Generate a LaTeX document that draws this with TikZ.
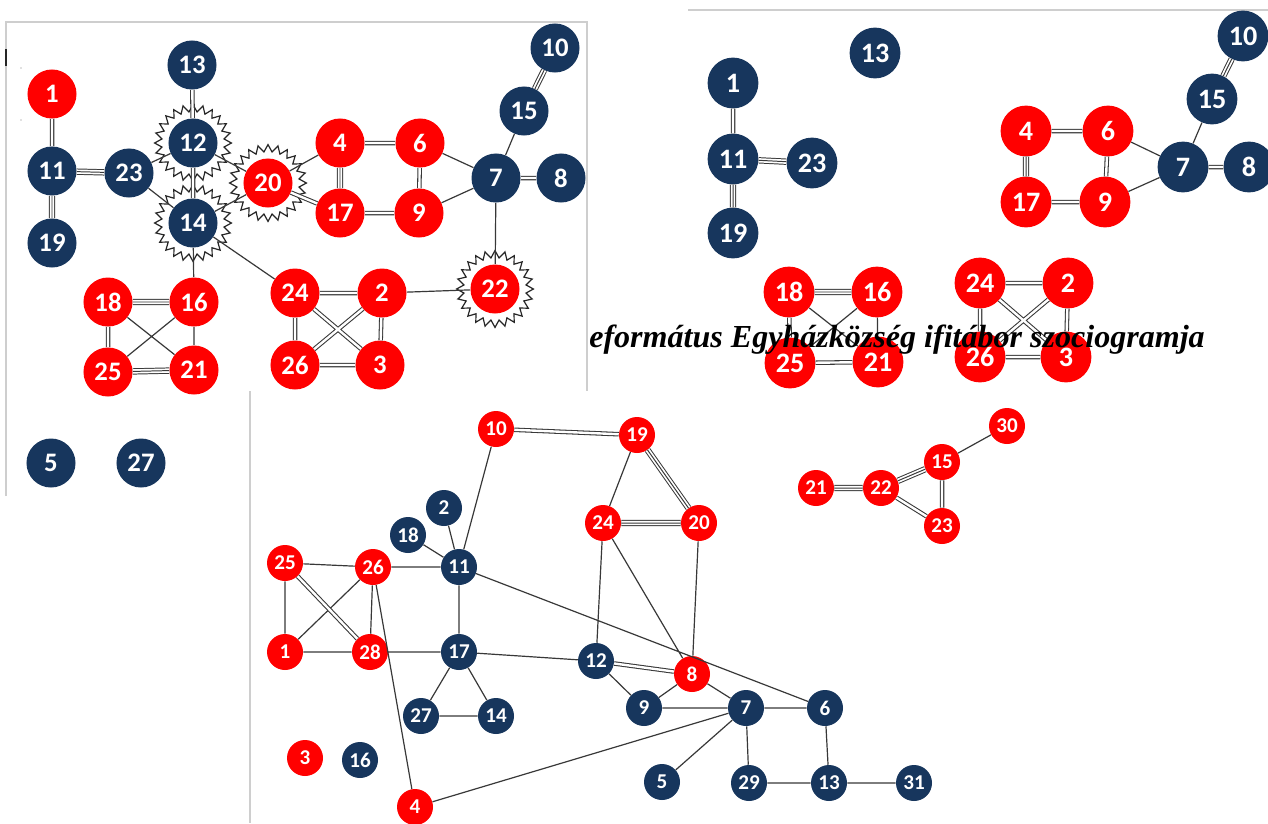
\documentclass[tikz,border=0pt]{standalone}
\usepackage{fontspec}
\setmainfont{Liberation Serif}
\newfontfamily\calibri{Carlito}
\usepackage{tikz}
\usetikzlibrary{shapes.geometric}
\definecolor{sotetkek}{RGB}{23,54,93}
\definecolor{pirosszin}{RGB}{255,0,0}
\definecolor{keret}{RGB}{206,206,206}
\tikzset{
	pont/.style={circle, inner sep=0pt, text=white},
	kekpont/.style={pont, fill=sotetkek},
	pirospont/.style={pont, fill=pirosszin},
	nagy/.style={minimum size=1.225cm, font=\calibri\bfseries\fontsize{19}{19}\selectfont},
	nagyobb/.style={minimum size=1.27cm, font=\calibri\bfseries\fontsize{20}{20}\selectfont},
	kicsi/.style={minimum size=0.9cm, font=\calibri\bfseries\fontsize{15}{15}\selectfont},
	csillag/.style={star, star points=24, star point ratio=1.23, minimum size=1.92cm, inner sep=0pt, draw=black!85, line width=0.85pt},
	egy/.style={draw=black!78, line width=0.85pt},
	ketto/.style={draw=black!78, line width=0.75pt, double=white, double distance=1.7pt},
	harom/.style={draw=black!78, line width=0.7pt, double=white, double distance=3.1pt},
	kozep/.style={draw=black!78, line width=0.7pt}
}

\begin{document}
\begin{tikzpicture}[x=0.025cm, y=-0.025cm]
\useasboundingbox[fill=white] (0,0) rectangle (1268,823);

% frames
\draw[keret, line width=0.9pt] (6,496) -- (6,22) -- (587,22) -- (587,391);
\draw[keret, line width=0.9pt] (688,10) -- (1268,10);
\draw[keret, line width=0.9pt] (250,391) -- (250,823);
\draw[black!85, line width=1.4pt] (6,49) -- (6,66);
\fill[gray] (21,68) circle (0.7) (21,120) circle (0.7);

% second sociogram (top right)
\node[kekpont, nagyobb] (b13) at (875,53) {13};
\node[kekpont, nagyobb] (b1) at (733,83) {1};
\node[kekpont, nagyobb] (b10) at (1243,36) {10};
\node[kekpont, nagyobb] (b15) at (1212,99) {15};
\node[kekpont, nagyobb] (b11) at (733,159) {11};
\node[kekpont, nagyobb] (b23) at (812,163) {23};
\node[pirospont, nagyobb] (b4) at (1026,131) {4};
\node[pirospont, nagyobb] (b6) at (1108,131) {6};
\node[kekpont, nagyobb] (b7) at (1183,167) {7};
\node[kekpont, nagyobb] (b8) at (1249,167) {8};
\node[pirospont, nagyobb] (b17) at (1026,202) {17};
\node[pirospont, nagyobb] (b9) at (1105,202) {9};
\node[kekpont, nagyobb] (b19) at (733,233) {19};
\node[pirospont, nagyobb] (b18) at (789,292) {18};
\node[pirospont, nagyobb] (b16) at (877,292) {16};
\node[pirospont, nagyobb] (b24) at (980,283) {24};
\node[pirospont, nagyobb] (b2) at (1068,283) {2};
\node[pirospont, nagyobb] (b25) at (790,363) {25};
\node[pirospont, nagyobb] (b21) at (878,362) {21};
\node[pirospont, nagyobb] (b26) at (980,357) {26};
\node[pirospont, nagyobb] (b3) at (1066,357) {3};

\draw[egy] (b6) -- (b7) (b9) -- (b7) (b7) -- (b15) (b18) -- (b21) (b16) -- (b25) (b16) -- (b21);
\draw[ketto] (b1) -- (b11) (b4) -- (b6) (b6) -- (b9) (b17) -- (b9) (b7) -- (b8) (b18) -- (b25)
	(b25) -- (b21) (b24) -- (b2) (b24) -- (b26) (b2) -- (b3) (b26) -- (b3) (b24) -- (b3) (b2) -- (b26);
\draw[harom] (b11) -- (b23) (b11) -- (b19) (b4) -- (b17) (b15) -- (b10) (b18) -- (b16);
\draw[kozep] (b11) -- (b23) (b11) -- (b19) (b4) -- (b17) (b15) -- (b10) (b18) -- (b16);

\node[anchor=base west, font=\bfseries\itshape\fontsize{22.8}{24}\selectfont, inner sep=0pt] (cim) at (589,347) {eformátus Egyházközség ifitábor szociogramja};

% first sociogram (top left)
\node[kekpont, nagy] (a13) at (192,65) {13};
\node[pirospont, nagy] (a1) at (52,94) {1};
\node[kekpont, nagy] (a12) at (193,143) {12};
\node[kekpont, nagy] (a11) at (52,171) {11};
\node[kekpont, nagy] (a23) at (129,173) {23};
\node[pirospont, nagy] (a20) at (268,183) {20};
\node[pirospont, nagy] (a4) at (340,143) {4};
\node[pirospont, nagy] (a6) at (420,143) {6};
\node[kekpont, nagy] (a15) at (524,111) {15};
\node[kekpont, nagy] (a10) at (555,48) {10};
\node[kekpont, nagy] (a7) at (496,178) {7};
\node[kekpont, nagy] (a8) at (561,178) {8};
\node[kekpont, nagy] (a14) at (193,223) {14};
\node[kekpont, nagy] (a19) at (52,243) {19};
\node[pirospont, nagy] (a17) at (340,213) {17};
\node[pirospont, nagy] (a9) at (419,213) {9};
\node[pirospont, nagy] (a22) at (495,289) {22};
\node[pirospont, nagy] (a18) at (108,302) {18};
\node[pirospont, nagy] (a16) at (194,302) {16};
\node[pirospont, nagy] (a24) at (295,293) {24};
\node[pirospont, nagy] (a2) at (382,293) {2};
\node[pirospont, nagy] (a25) at (108,372) {25};
\node[pirospont, nagy] (a21) at (194,370) {21};
\node[pirospont, nagy] (a26) at (295,365) {26};
\node[pirospont, nagy] (a3) at (380,365) {3};
\node[kekpont, nagy] (a5) at (51,463) {5};
\node[kekpont, nagy] (a27) at (141,463) {27};

\node[csillag] (a12s) at (a12) {};
\node[csillag] (a14s) at (a14) {};
\node[csillag] (a20s) at (a20) {};
\node[csillag] (a22s) at (a22) {};

\draw[egy] (a23) -- (a12) (a23) -- (a14) (a12) -- (a20) (a14) -- (a20) (a20) -- (a4)
	(a6) -- (a7) (a9) -- (a7) (a7) -- (a15) (a7) -- (a22) (a14) -- (a16) (a14) -- (a24)
	(a2) -- (a22) (a18) -- (a21) (a16) -- (a25) (a16) -- (a21);
\draw[ketto] (a1) -- (a11) (a13) -- (a12) (a12) -- (a14) (a20) -- (a17) (a4) -- (a6) (a6) -- (a9)
	(a17) -- (a9) (a7) -- (a8) (a18) -- (a25) (a24) -- (a2) (a24) -- (a26) (a2) -- (a3)
	(a26) -- (a3) (a24) -- (a3) (a2) -- (a26);
\draw[harom] (a11) -- (a23) (a11) -- (a19) (a4) -- (a17) (a15) -- (a10) (a18) -- (a16) (a25) -- (a21);
\draw[kozep] (a11) -- (a23) (a11) -- (a19) (a4) -- (a17) (a15) -- (a10) (a18) -- (a16) (a25) -- (a21);

% third sociogram (bottom)
\node[pirospont, kicsi] (c10) at (496,429) {10};
\node[pirospont, kicsi] (c19) at (637,435) {19};
\node[kekpont, kicsi] (c2) at (444,508) {2};
\node[kekpont, kicsi] (c18) at (408,535) {18};
\node[pirospont, kicsi] (c24) at (603,523) {24};
\node[pirospont, kicsi] (c20) at (699,523) {20};
\node[pirospont, kicsi] (c25) at (285,563) {25};
\node[pirospont, kicsi] (c26) at (373,567) {26};
\node[kekpont, kicsi] (c11) at (459,567) {11};
\node[pirospont, kicsi] (c1) at (285,652) {1};
\node[pirospont, kicsi] (c28) at (370,652) {28};
\node[kekpont, kicsi] (c17) at (459,652) {17};
\node[kekpont, kicsi] (c12) at (596,661) {12};
\node[pirospont, kicsi] (c8) at (692,674) {8};
\node[kekpont, kicsi] (c9) at (644,708) {9};
\node[kekpont, kicsi] (c7) at (746,708) {7};
\node[kekpont, kicsi] (c27) at (421,716) {27};
\node[kekpont, kicsi] (c14) at (496,716) {14};
\node[pirospont, kicsi] (c3) at (305,758) {3};
\node[kekpont, kicsi] (c16) at (360,760) {16};
\node[kekpont, kicsi] (c5) at (662,782) {5};
\node[pirospont, kicsi] (c4) at (415,807) {4};
\node[pirospont, kicsi] (c30) at (1007,426) {30};
\node[pirospont, kicsi] (c15) at (942,462) {15};
\node[pirospont, kicsi] (c21) at (816,488) {21};
\node[pirospont, kicsi] (c22) at (881,488) {22};
\node[pirospont, kicsi] (c23) at (942,526) {23};
\node[kekpont, kicsi] (c6) at (825,708) {6};
\node[kekpont, kicsi] (c29) at (749,783) {29};
\node[kekpont, kicsi] (c13) at (829,783) {13};
\node[kekpont, kicsi] (c31) at (914,783) {31};

\draw[egy] (c19) -- (c24) (c10) -- (c11) (c2) -- (c11) (c18) -- (c11) (c25) -- (c26) (c26) -- (c11)
	(c25) -- (c1) (c26) -- (c1) (c26) -- (c28) (c26) -- (c4) (c1) -- (c28) (c28) -- (c17)
	(c11) -- (c17) (c11) -- (c6) (c17) -- (c12) (c17) -- (c27) (c17) -- (c14) (c27) -- (c14)
	(c24) -- (c12) (c24) -- (c8) (c20) -- (c8) (c12) -- (c9) (c8) -- (c9) (c8) -- (c7)
	(c9) -- (c7) (c7) -- (c6) (c7) -- (c4) (c7) -- (c5) (c7) -- (c29) (c6) -- (c13)
	(c29) -- (c13) (c13) -- (c31) (c15) -- (c30);
\draw[ketto] (c10) -- (c19) (c25) -- (c28) (c12) -- (c8) (c22) -- (c23) (c15) -- (c23);
\draw[harom] (c19) -- (c20) (c24) -- (c20) (c22) -- (c21) (c22) -- (c15);
\draw[kozep] (c19) -- (c20) (c24) -- (c20) (c22) -- (c21) (c22) -- (c15);
\end{tikzpicture}
\end{document}
